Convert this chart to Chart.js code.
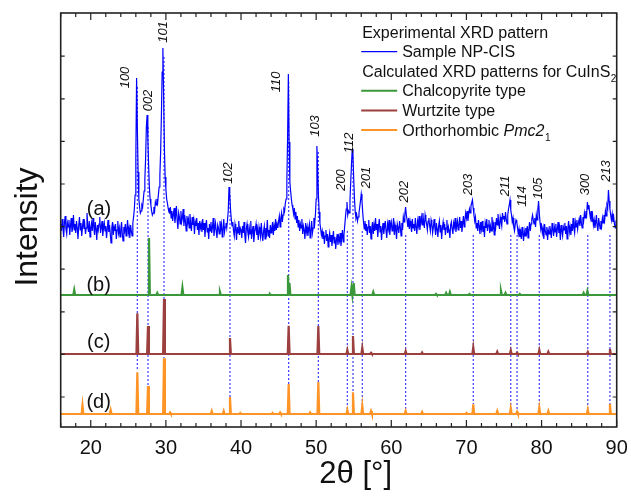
<!DOCTYPE html>
<html>
<head>
<meta charset="utf-8">
<script src="https://cdn.jsdelivr.net/npm/chart.js@4/dist/chart.umd.min.js"></script>
<style>
  html, body { margin: 0; padding: 0; background: #ffffff; }
  canvas { display: block; }
</style>
</head>
<body>
<canvas id="c" width="631" height="497"></canvas>
<script>
// ---------------- DATA ----------------
// 2θ axis
const twoThetaMin = 16;
const twoThetaMax = 90;
const sampleStep = 0.1;            // 2θ step of the experimental scan (starts at twoThetaMin)

// (a) Experimental XRD pattern, sample NP-CIS (offset intensity, a.u.)
const sampleNPCIS = [
  203,196,208,199,190,205,211,198,193,204,
  200,207,192,201,209,195,199,212,197,203,
  194,206,199,188,202,210,197,204,191,200,
  208,198,203,193,199,214,201,195,206,190,
  199,204,196,209,201,192,205,198,187,202,
  197,203,210,194,200,206,191,199,204,196,
  201,189,198,207,195,202,193,184,199,205,
  192,200,196,203,188,197,206,194,199,190,
  198,205,193,186,200,196,203,191,198,207,
  194,199,189,202,196,191,204,210,218,232,
  270,349,300,255,228,220,214,216,222,220,
  228,236,248,268,300,312,288,262,240,228,
  222,216,212,214,220,216,225,222,228,224,
  232,240,252,275,310,355,379,330,280,250,
  238,228,224,219,215,214,220,209,216,206,
  213,219,204,211,221,207,198,214,210,203,
  216,205,209,218,201,212,206,196,211,204,
  208,199,213,203,196,210,202,207,193,205,
  201,209,197,204,192,206,199,203,195,208,
  197,204,190,201,207,195,199,188,203,196,
  205,194,200,209,191,198,204,196,189,202,
  199,193,206,198,203,190,197,208,195,200,
  204,199,207,216,240,232,218,208,201,205,
  196,191,203,198,187,200,194,206,192,199,
  197,189,201,194,205,192,184,198,203,195,
  190,199,193,206,188,196,201,185,194,198,
  203,192,197,187,200,195,190,204,193,186,
  196,201,188,199,194,207,191,197,189,202,
  194,199,205,192,201,196,208,197,203,199,
  206,211,200,209,214,205,212,218,216,224,
  228,245,290,353,285,245,236,228,222,218,
  213,219,208,215,204,211,200,207,196,203,
  199,208,193,201,197,188,204,195,200,191,
  198,203,189,196,206,194,199,209,203,212,
  228,281,258,232,215,204,198,192,196,188,
  195,183,191,197,186,193,180,189,194,185,
  192,181,188,196,184,190,178,187,193,182,
  190,186,194,181,189,197,185,192,201,210,
  218,225,212,216,214,226,245,262,278,270,
  248,228,215,209,212,206,210,214,220,226,
  233,226,214,205,198,206,196,203,192,200,
  207,194,201,188,199,205,193,202,196,209,
  197,203,190,200,208,195,201,187,198,204,
  193,200,206,196,189,203,198,207,192,201,
  205,196,199,209,192,202,197,188,203,199,
  194,206,200,191,204,197,210,205,212,220,
  212,207,200,209,198,206,201,195,208,199,
  203,196,209,200,193,206,201,211,197,204,
  210,202,214,205,199,212,207,203,197,206,
  209,201,196,207,203,194,200,208,199,192,
  204,198,190,201,206,195,202,188,199,205,
  197,203,192,199,207,194,200,196,189,202,
  205,198,193,204,200,209,195,201,206,197,
  202,210,199,206,195,203,211,200,207,214,
  209,216,206,213,218,214,221,224,227,219,
  212,206,210,199,204,196,207,201,193,205,
  198,206,195,201,190,204,199,208,196,202,
  207,194,201,196,210,199,203,192,205,200,
  209,202,213,204,198,210,206,201,214,208,
  211,205,215,208,203,212,218,222,227,217,
  212,205,209,200,196,203,207,205,199,193,
  198,190,195,188,200,193,186,196,191,199,
  194,201,189,197,205,196,203,208,212,207,
  203,209,200,212,207,217,226,214,204,198,
  201,194,199,188,203,196,192,200,187,197,
  193,201,196,189,204,198,191,200,195,203,
  190,198,205,194,199,187,202,196,191,200,
  197,204,193,201,188,199,206,195,200,192,
  203,196,209,199,194,205,200,207,198,204,
  208,201,212,204,199,210,206,214,209,216,
  212,225,218,222,214,209,216,205,211,202,
  207,199,204,212,201,196,209,203,198,206,
  201,209,204,212,207,216,211,222,219,237,
  226,218,212,207,213,205,210,203,199,204,
  202
];

// (b) Calculated pattern, chalcopyrite type
const chalcoBaseline = 132;
const chalcoPos = [17.8, 27.75, 28.85, 32.2, 37.2, 43.85, 46.25, 46.45, 54.7, 55.0, 57.6, 65.95, 67.3, 67.8, 70.4, 74.6, 75.2, 77.1, 85.6, 86.1];
const chalcoInt = [5, 57, 2, 7.3, 3, 1, 20, 12, 7.4, 12, 3, 1, 2, 3, 1, 4, 2, 1, 2, 4];

// (c) Calculated pattern, wurtzite type
const wurtzBaseline = 73;
const wurtzPos = [26.2, 27.62, 29.75, 38.53, 46.34, 50.29, 54.15, 54.9, 56.14, 57.3, 61.91, 64.1, 70.91, 74.1, 75.9, 76.74, 79.7, 80.9, 86.15, 89.1];
const wurtzInt = [40.7, 28, 55, 16, 28.3, 28, 4, 18, 6.3, 1.2, 3, 1.5, 6.7, 2.3, 3.7, 1.3, 4, 2.3, 2, 5];

// (d) Calculated pattern, orthorhombic Pmc2_1
const orthoBaseline = 13;
const orthoPos = [18.9, 22.65, 26.2, 27.62, 29.75, 30.55, 36.1, 37.7, 38.53, 39.9, 44.2, 45.2, 46.34, 49.2, 50.29, 54.15, 54.9, 56.14, 57.3, 61.91, 64.1, 70.0, 70.91, 74.1, 75.9, 76.74, 79.7, 80.9, 86.15, 89.1];
const orthoInt = [8.7, 4, 41.7, 28, 55.7, 1.5, 3, 3, 17, 1, 1, 1.5, 30, 1.5, 32, 4, 21.7, 8.3, 3, 3, 2, 1, 9.7, 3, 5.7, 2.3, 6.3, 3, 4.3, 10];

// Miller indices (wurtzite) with guide lines
const hklLabels     = ['100','002','101','102','110','103','200','112','201','202','203','211','114','105','300','213'];
const hklPos        = [26.2, 27.62, 29.75, 38.53, 46.34, 50.29, 54.15, 54.9, 56.14, 61.91, 70.91, 75.9, 76.74, 79.7, 86.15, 89.1];
const hklLineTop    = [340, 300, 370, 232, 345, 275, 196, 270, 196, 192, 192, 192, 192, 192, 192, 192];
const hklLineBottom = [57, 41, 69, 30, 43, 45, 17, 35, 21, 16, 23, 19, 15, 19, 17, 23];
const hklLabelX     = [24.56, 27.66, 29.65, 38.3, 44.75, 49.84, 53.3, 54.37, 56.63, 61.69, 70.25, 75.13, 77.49, 79.56, 85.87, 88.67];
const hklLabelY     = [349.5, 326.5, 395, 254, 345, 301, 247, 284, 249.5, 235.3, 242.5, 241, 230.5, 238.5, 242.5, 256];

// Trace tags
const traceTags = ['(a)', '(b)', '(c)', '(d)'];
const traceTagX = [21.1, 21.05, 21.05, 21.05];
const traceTagY = [218, 142, 84.5, 24.5];

// Axis texts
const xTitle = '2θ [°]';
const yTitle = 'Intensity';

// Y ticks (no labels)
const yTickValues = [30, 72.6, 115.2, 157.8, 200.4, 243, 285.6, 328.2, 370.8];
// X tick labels every 10°, minor ticks every 2°
const xTickStep = 2;
const xLabelEvery = 10;

// ---------------- STYLE ----------------
const FONT = '"Liberation Sans", Arial, Helvetica, sans-serif';
const COLORS = { sample: '#0000ff', chalco: '#3a983a', wurtz: '#9c3f3f', ortho: '#ff9426', guide: '#3c3cff' };
const PEAK_HW = 0.12;

Chart.defaults.font.family = FONT;

function stickPattern(pos, inten, base) {
  const pts = [{ x: twoThetaMin, y: base }];
  pos.forEach((p, i) => {
    pts.push({ x: p - PEAK_HW, y: base }, { x: p, y: base + inten[i] }, { x: p + PEAK_HW, y: base });
  });
  pts.push({ x: twoThetaMax, y: base });
  return pts.sort((a, b) => a.x - b.x);
}

const sampleData = sampleNPCIS.map((v, i) => ({ x: +(twoThetaMin + i * sampleStep).toFixed(2), y: v }));
const guideData = [];
hklPos.forEach((p, i) => {
  guideData.push({ x: p, y: hklLineTop[i] }, { x: p, y: hklLineBottom[i] }, { x: p, y: null });
});

const datasets = [
  { label: 'Sample NP-CIS', data: sampleData, borderColor: COLORS.sample, borderWidth: 1.2, order: 0 },
  { label: 'Chalcopyrite type', data: stickPattern(chalcoPos, chalcoInt, chalcoBaseline), borderColor: COLORS.chalco, borderWidth: 2.2, order: 1 },
  { label: 'Wurtzite type', data: stickPattern(wurtzPos, wurtzInt, wurtzBaseline), borderColor: COLORS.wurtz, borderWidth: 2.2, order: 2 },
  { label: 'Orthorhombic Pmc21', data: stickPattern(orthoPos, orthoInt, orthoBaseline), borderColor: COLORS.ortho, borderWidth: 2.2, order: 3 },
  { label: 'guides', data: guideData, borderColor: COLORS.guide, borderWidth: 1.2, borderDash: [2, 2], spanGaps: false, order: 10 }
];
datasets.forEach(d => { d.pointRadius = 0; d.tension = 0; d.fill = false; });

// Frame + inward ticks on all four sides, axis titles
const framePlugin = {
  id: 'frame',
  afterDraw(chart) {
    const { ctx, chartArea: a, scales: { x, y } } = chart;
    ctx.save();
    ctx.strokeStyle = '#222';
    ctx.lineWidth = 1.2;
    ctx.beginPath();
    x.ticks.forEach(t => {
      const px = x.getPixelForValue(t.value);
      const len = (t.value % xLabelEvery === 0) ? 7 : 4;
      ctx.moveTo(px, a.bottom); ctx.lineTo(px, a.bottom - len);
      ctx.moveTo(px, a.top); ctx.lineTo(px, a.top + len);
    });
    y.ticks.forEach(t => {
      const py = y.getPixelForValue(t.value);
      ctx.moveTo(a.left, py); ctx.lineTo(a.left + 4, py);
      ctx.moveTo(a.right, py); ctx.lineTo(a.right - 4, py);
    });
    ctx.stroke();
    ctx.lineWidth = 1.6;
    ctx.strokeRect(a.left, a.top, a.right - a.left, a.bottom - a.top);

    // axis titles
    ctx.fillStyle = '#111';
    ctx.textAlign = 'center';
    ctx.textBaseline = 'alphabetic';
    ctx.font = '31px ' + FONT;
    ctx.fillText(xTitle, (a.left + a.right) / 2 + 17, a.bottom + 56);
    ctx.save();
    ctx.translate(a.left - 24, (a.top + a.bottom) / 2 + 7);
    ctx.rotate(-Math.PI / 2);
    ctx.font = '32px ' + FONT;
    ctx.fillText(yTitle, 0, 0);
    ctx.restore();
    ctx.restore();
  }
};

// Miller indices, trace tags and the legend
const annotPlugin = {
  id: 'annot',
  afterDatasetsDraw(chart) {
    const { ctx, chartArea: a, scales: { x, y } } = chart;
    ctx.save();
    ctx.fillStyle = '#111';
    ctx.textAlign = 'center';
    ctx.textBaseline = 'middle';
    ctx.font = 'italic 13px ' + FONT;
    hklLabels.forEach((lab, i) => {
      ctx.save();
      ctx.translate(x.getPixelForValue(hklLabelX[i]), y.getPixelForValue(hklLabelY[i]));
      ctx.rotate(-Math.PI / 2);
      ctx.fillText(lab, 0, 0);
      ctx.restore();
    });
    ctx.font = '20px ' + FONT;
    traceTags.forEach((t, i) => {
      ctx.fillText(t, x.getPixelForValue(traceTagX[i]), y.getPixelForValue(traceTagY[i]));
    });

    // Legend
    const lx = a.left + 300.5, tx = lx + 41, row = 19.6;
    const top = a.top + 24.5;
    ctx.textAlign = 'left';
    ctx.textBaseline = 'alphabetic';
    ctx.font = '16px ' + FONT;
    ctx.fillStyle = '#111';
    ctx.fillText('Experimental XRD pattern', lx + 1, top);
    const lineRow = (yy, color, w) => {
      ctx.strokeStyle = color; ctx.lineWidth = w;
      ctx.beginPath(); ctx.moveTo(lx, yy); ctx.lineTo(lx + 36, yy); ctx.stroke();
    };
    lineRow(top + row - 5.5, COLORS.sample, 1.2);
    ctx.fillText('Sample NP-CIS', tx, top + row);
    ctx.fillText('Calculated XRD patterns for CuInS', lx + 1, top + 2 * row);
    let w = ctx.measureText('Calculated XRD patterns for CuInS').width;
    ctx.font = '10px ' + FONT;
    ctx.fillText('2', lx + 1 + w + 0.5, top + 2 * row + 5);
    ctx.font = '16px ' + FONT;
    lineRow(top + 3 * row - 5.5, COLORS.chalco, 2);
    ctx.fillText('Chalcopyrite type', tx, top + 3 * row);
    lineRow(top + 4 * row - 5.5, COLORS.wurtz, 2);
    ctx.fillText('Wurtzite type', tx, top + 4 * row);
    lineRow(top + 5 * row - 5.5, COLORS.ortho, 2);
    ctx.fillText('Orthorhombic ', tx, top + 5 * row);
    let w1 = ctx.measureText('Orthorhombic ').width;
    ctx.font = 'italic 16px ' + FONT;
    ctx.fillText('Pmc2', tx + w1, top + 5 * row);
    let w2 = ctx.measureText('Pmc2').width;
    ctx.font = '10px ' + FONT;
    ctx.fillText('1', tx + w1 + w2 + 0.5, top + 5 * row + 5);
    ctx.restore();
  }
};

new Chart(document.getElementById('c'), {
  type: 'line',
  data: { datasets },
  options: {
    responsive: false,
    animation: false,
    events: [],
    layout: { padding: { left: 0, right: 14.3, top: 13, bottom: 0 } },
    plugins: { legend: { display: false }, tooltip: { enabled: false } },
    scales: {
      x: {
        type: 'linear', min: twoThetaMin, max: twoThetaMax,
        grid: { display: false, drawTicks: false },
        border: { display: false },
        ticks: {
          stepSize: xTickStep, autoSkip: false, maxRotation: 0, color: '#111', padding: 9,
          font: { size: 20 },
          callback: v => (v % xLabelEvery === 0 ? String(v) : '')
        },
        title: { display: false },
        afterFit: s => { s.height = 70; s.paddingLeft = 0; s.paddingRight = 0; }
      },
      y: {
        type: 'linear', min: 0, max: 414,
        grid: { display: false, drawTicks: false },
        border: { display: false },
        ticks: { display: false },
        afterBuildTicks: axis => { axis.ticks = yTickValues.map(v => ({ value: v })); },
        title: { display: false },
        afterFit: s => { s.width = 60.7; s.paddingTop = 0; s.paddingBottom = 0; }
      }
    }
  },
  plugins: [framePlugin, annotPlugin]
});
</script>
</body>
</html>
